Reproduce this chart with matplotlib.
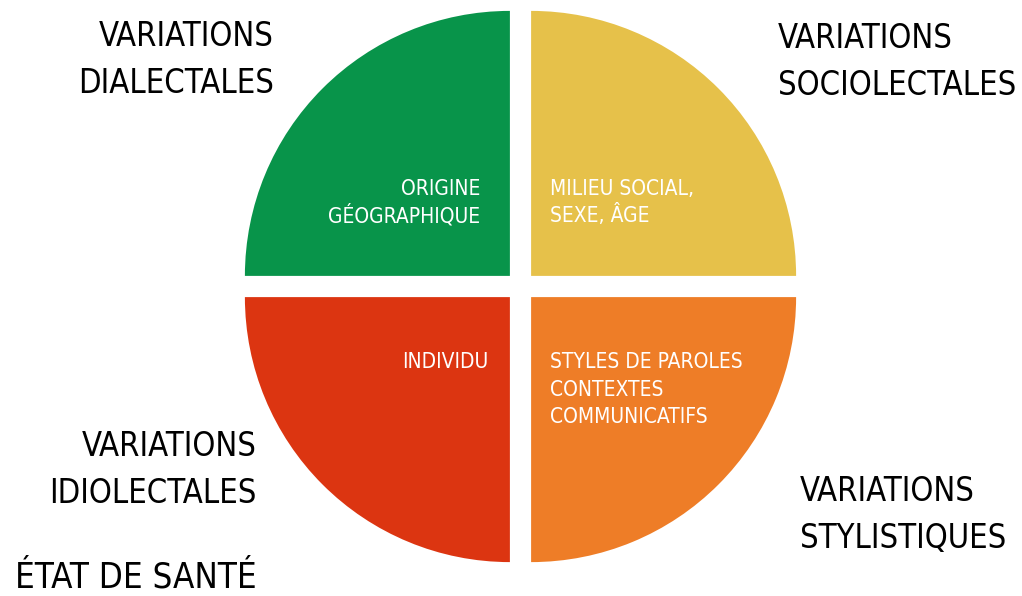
import matplotlib
matplotlib.use('Agg')
import matplotlib.pyplot as plt

# figure is laid out in pixel units (y measured from the top of the picture)
W, H = 1022, 596

# four equal quadrants, counter-clockwise from the top-left one
quadrant_values = [1, 1, 1, 1]
quadrant_colors = ['#08944a', '#dc3511', '#ee7d27', '#e6c14a']

# outer labels: (lines, x, first baseline, align, size)
outer_labels = [
    (['VARIATIONS', 'DIALECTALES'], 274, 46, 'right', 23.5),
    (['VARIATIONS', 'SOCIOLECTALES'], 778, 48, 'left', 23.5),
    (['VARIATIONS', 'IDIOLECTALES'], 257, 456, 'right', 23.5),
    (['ÉTAT DE SANTÉ'], 257, 587, 'right', 25),
    (['VARIATIONS', 'STYLISTIQUES'], 800, 501, 'left', 23.5),
]

# labels inside the quadrants
inner_labels = [
    (['ORIGINE', 'GÉOGRAPHIQUE'], 480, 195, 'right'),
    (['MILIEU SOCIAL,', 'SEXE, ÂGE'], 550, 195, 'left'),
    (['INDIVIDU'], 488, 368, 'right'),
    (['STYLES DE PAROLES', 'CONTEXTES', 'COMMUNICATIFS'], 550, 368, 'left'),
]

plt.rcParams['font.family'] = ['DejaVu Sans']

fig = plt.figure(figsize=(W / 100, H / 100), dpi=100)
ax = fig.add_axes([0, 0, 1, 1])

ax.pie(quadrant_values, colors=quadrant_colors, startangle=90,
       radius=265, center=(520.5, H - 286.5), explode=[15] * 4,
       wedgeprops=dict(linewidth=0), frame=True)

for lines, x, y0, ha, size in outer_labels:
    for i, line in enumerate(lines):
        ax.text(x, H - (y0 + i * 47), line, ha=ha, va='baseline',
                fontsize=size, fontstretch='condensed', color='black')

for lines, x, y0, ha in inner_labels:
    for i, line in enumerate(lines):
        ax.text(x, H - (y0 + i * 27.5), line, ha=ha, va='baseline',
                fontsize=15, fontstretch='condensed', color='white')

ax.set_xlim(0, W)
ax.set_ylim(0, H)
ax.set_aspect('equal')
ax.axis('off')

fig.savefig('out.png', dpi=100, facecolor='white')
